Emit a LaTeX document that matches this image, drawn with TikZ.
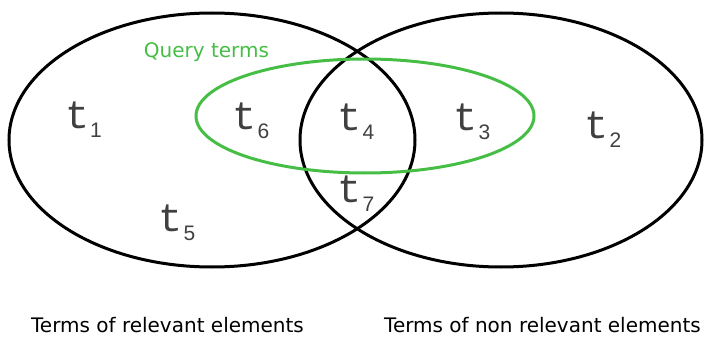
\documentclass[tikz,border=0pt]{standalone}
\usepackage{fontspec}
\newfontfamily\labelfont{DejaVu Sans}
\newfontfamily\termfont{Liberation Mono}
\newfontfamily\digitfont{Liberation Sans}
\usetikzlibrary{positioning}
\definecolor{querygreen}{RGB}{70,190,70}
% a term: t with a lowered index
\newcommand{\term}[1]{{\termfont\fontsize{40}{40}\selectfont t}\kern1pt\raisebox{-9pt}{\digitfont\fontsize{21}{21}\selectfont #1}}

\begin{document}
\begin{tikzpicture}[
  x=1pt,y=-1pt,
  setline/.style={line width=3pt,black},
  qline/.style={line width=3pt,querygreen},
  termlbl/.style={inner sep=0pt,text=black!75},
  caption/.style={inner sep=0pt,anchor=base,font=\labelfont\fontsize{20}{20}\selectfont},
]
  \useasboundingbox (0,0) rectangle (705,337);

  % the two sets of terms
  \draw[setline] (212,140) ellipse [x radius=203,y radius=127];
  \draw[setline] (501,140) ellipse [x radius=201,y radius=127];
  % query terms
  \draw[qline] (365,116) ellipse [x radius=169,y radius=57];
  \node[caption,text=querygreen] (qlbl) at (206.5,58) {Query terms};

  % terms
  \node[termlbl] (t1) at (83.5,120) {\term{1}};
  \node[termlbl] (t2) at (603,130) {\term{2}};
  \node[termlbl] (t3) at (472,122) {\term{3}};
  \node[termlbl] (t4) at (356,122) {\term{4}};
  \node[termlbl] (t5) at (177,223) {\term{5}};
  \node[termlbl] (t6) at (251,121) {\term{6}};
  \node[termlbl] (t7) at (356,194) {\term{7}};

  % captions
  \node[caption] (rel) at (167.5,332) {Terms of relevant elements};
  \node[caption] (nonrel) at (542.5,332) {Terms of non relevant elements};
\end{tikzpicture}
\end{document}
